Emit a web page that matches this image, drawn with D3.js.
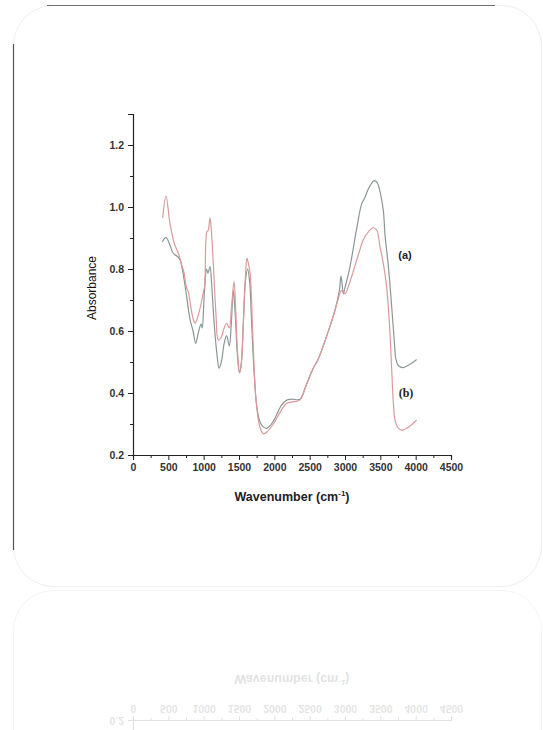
<!DOCTYPE html>
<html>
<head>
<meta charset="utf-8">
<script src="https://cdn.jsdelivr.net/npm/d3@7"></script>
<style>
  body { margin: 0; background: #fff; }
  svg { display: block; }
  .tick text { font-family: "Liberation Sans", Arial, sans-serif; }
</style>
</head>
<body>
<svg id="fig" width="543" height="730"></svg>
<script>
// spectrum (a) - grey trace
var waveA = [415, 467, 523, 571, 632, 665, 720, 760, 806, 850, 887, 920, 948, 965, 980, 1000, 1020, 1040, 1060, 1090,
    1110, 1150, 1190, 1217, 1250, 1290, 1325, 1363, 1390, 1420, 1445, 1475, 1505, 1530, 1560, 1590, 1622, 1650, 1680, 1710,
    1750, 1800, 1850, 1891, 1950, 2000, 2100, 2175, 2250, 2363, 2450, 2550, 2622, 2750, 2850, 2920, 2943, 2960, 2976, 3000,
    3070, 3165, 3236, 3280, 3330, 3400, 3424, 3460, 3500, 3542, 3566, 3613, 3660, 3700, 3720, 3760, 3825, 3900, 4014];
var absA = [0.888, 0.902, 0.877, 0.85, 0.84, 0.83, 0.77, 0.71, 0.638, 0.60, 0.56, 0.59, 0.615, 0.622, 0.61, 0.68, 0.76, 0.80, 0.787, 0.808,
    0.76, 0.62, 0.52, 0.48, 0.50, 0.56, 0.585, 0.552, 0.62, 0.73, 0.66, 0.53, 0.465, 0.49, 0.62, 0.76, 0.80, 0.76, 0.62, 0.48,
    0.36, 0.305, 0.29, 0.286, 0.297, 0.315, 0.36, 0.377, 0.38, 0.38, 0.425, 0.48, 0.51, 0.59, 0.66, 0.73, 0.777, 0.75, 0.72, 0.74,
    0.807, 0.93, 1.01, 1.03, 1.058, 1.083, 1.085, 1.077, 1.045, 0.99, 0.91, 0.81, 0.68, 0.56, 0.51, 0.487, 0.482, 0.49, 0.508];

// spectrum (b) - pink trace
var waveB = [420, 467, 523, 584, 651, 689, 720, 759, 783, 810, 850, 877, 910, 940, 975, 1000, 1015, 1045, 1065, 1090,
    1110, 1140, 1175, 1207, 1250, 1290, 1325, 1363, 1395, 1430, 1455, 1480, 1510, 1535, 1565, 1595, 1612, 1640, 1660, 1700,
    1740, 1790, 1844, 1900, 2000, 2100, 2175, 2280, 2363, 2450, 2550, 2622, 2750, 2850, 2900, 2950, 3000, 3050, 3100, 3188,
    3259, 3330, 3400, 3450, 3495, 3542, 3590, 3630, 3660, 3684, 3710, 3750, 3802, 3900, 4014];
var absB = [0.965, 1.035, 0.947, 0.883, 0.845, 0.813, 0.79, 0.738, 0.727, 0.69, 0.64, 0.625, 0.64, 0.665, 0.70, 0.73, 0.745, 0.92, 0.925, 0.965,
    0.92, 0.80, 0.65, 0.571, 0.58, 0.61, 0.625, 0.61, 0.68, 0.76, 0.66, 0.53, 0.465, 0.50, 0.64, 0.79, 0.835, 0.81, 0.78, 0.56,
    0.38, 0.295, 0.268, 0.275, 0.305, 0.345, 0.367, 0.372, 0.378, 0.425, 0.48, 0.51, 0.59, 0.66, 0.70, 0.73, 0.72, 0.745, 0.78, 0.845,
    0.894, 0.92, 0.933, 0.925, 0.872, 0.818, 0.74, 0.62, 0.48, 0.37, 0.31, 0.288, 0.28, 0.29, 0.313];

var xTicks = [0, 500, 1000, 1500, 2000, 2500, 3000, 3500, 4000, 4500];
var yTicks = [0.2, 0.4, 0.6, 0.8, 1.0, 1.2];

var svg = d3.select("#fig");

// card behind the figure
var card = svg.append("g").attr("id", "card");
card.append("rect")
    .attr("x", 13.5).attr("y", 5.5)
    .attr("width", 528).attr("height", 581)
    .attr("rx", 40)
    .attr("fill", "#fff")
    .attr("stroke", "#eeeeee");
card.append("line")
    .attr("x1", 47).attr("x2", 495).attr("y1", 5.5).attr("y2", 5.5)
    .attr("stroke", "#707070").attr("stroke-width", 1.2);
card.append("line")
    .attr("x1", 13.5).attr("x2", 13.5).attr("y1", 44).attr("y2", 550)
    .attr("stroke", "#555").attr("stroke-width", 1.2);

var chart = svg.append("g").attr("id", "chart");

var x = d3.scaleLinear().domain([0, 4500]).range([133, 451]);
var y = d3.scaleLinear().domain([0.2, 1.3]).range([455, 114]);

chart.append("g")
    .attr("transform", "translate(0,455)")
    .call(d3.axisBottom(x).tickValues(xTicks).tickSize(5).tickPadding(4).tickFormat(d3.format("d")));
chart.append("g")
    .attr("transform", "translate(0,455)")
    .call(d3.axisBottom(x).tickValues(d3.range(250, 4500, 500)).tickSize(3).tickFormat(""));

chart.append("g")
    .attr("transform", "translate(133,0)")
    .call(d3.axisLeft(y).tickValues(yTicks).tickSize(5).tickPadding(4).tickFormat(d3.format(".1f")));
chart.append("g")
    .attr("transform", "translate(133,0)")
    .call(d3.axisLeft(y).tickValues([0.3, 0.5, 0.7, 0.9, 1.1, 1.3]).tickSize(3).tickFormat(""));

chart.selectAll(".domain").attr("stroke", "#222").attr("stroke-width", 1.1);
chart.selectAll(".tick line").attr("stroke", "#222").attr("stroke-width", 1);
chart.selectAll(".tick text")
    .attr("font-size", 10.5)
    .attr("font-weight", "bold")
    .attr("fill", "#333");

var line = d3.line()
    .x(function (d) { return x(d[0]); })
    .y(function (d) { return y(d[1]); })
    .curve(d3.curveCatmullRom.alpha(0.5));

chart.append("path")
    .datum(d3.zip(waveA, absA))
    .attr("d", line)
    .attr("fill", "none")
    .attr("stroke", "#8a9797")
    .attr("stroke-width", 1.2);

chart.append("path")
    .datum(d3.zip(waveB, absB))
    .attr("d", line)
    .attr("fill", "none")
    .attr("stroke", "#dd9999")
    .attr("stroke-width", 1.2);

chart.append("text")
    .attr("x", 405).attr("y", 259)
    .attr("text-anchor", "middle")
    .attr("font-family", "Liberation Sans, Arial, sans-serif")
    .attr("font-weight", "bold")
    .attr("font-size", 11)
    .attr("fill", "#222")
    .text("(a)");

chart.append("text")
    .attr("x", 406).attr("y", 397)
    .attr("text-anchor", "middle")
    .attr("font-family", "Liberation Serif, Times New Roman, serif")
    .attr("font-weight", "bold")
    .attr("font-size", 12)
    .attr("fill", "#222")
    .text("(b)");

chart.append("text")
    .attr("transform", "translate(96,288) rotate(-90)")
    .attr("text-anchor", "middle")
    .attr("font-family", "Liberation Sans, Arial, sans-serif")
    .attr("font-size", 12)
    .attr("fill", "#111")
    .text("Absorbance");

var xt = chart.append("text")
    .attr("x", 292).attr("y", 501)
    .attr("text-anchor", "middle")
    .attr("font-family", "Liberation Sans, Arial, sans-serif")
    .attr("font-weight", "bold")
    .attr("font-size", 12.5)
    .attr("fill", "#222");
xt.append("tspan").text("Wavenumber (cm");
xt.append("tspan").attr("dy", -5).attr("font-size", 8).text("-1");
xt.append("tspan").attr("dy", 5).text(")");

// faint mirror image below the card
var defs = svg.append("defs");
defs.append("clipPath").attr("id", "below")
    .append("rect").attr("x", 0).attr("y", 589).attr("width", 543).attr("height", 141);

var refl = svg.append("g").attr("clip-path", "url(#below)").attr("opacity", 0.13);
refl.append("rect")
    .attr("x", 13.5).attr("y", 590.5)
    .attr("width", 528).attr("height", 400)
    .attr("rx", 40)
    .attr("fill", "none")
    .attr("stroke", "#aaa");
refl.append("use")
    .attr("href", "#chart")
    .attr("transform", "translate(0,1176) scale(1,-1)");
</script>
</body>
</html>
